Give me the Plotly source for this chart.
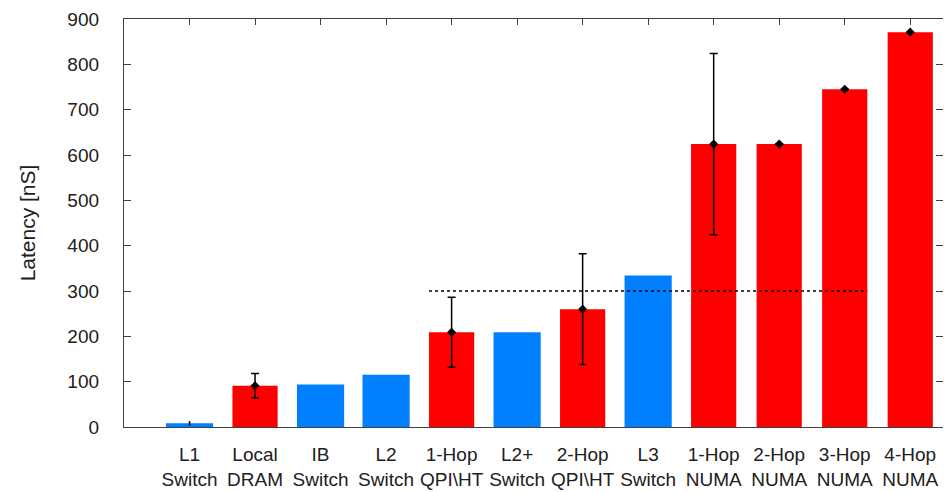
import plotly.graph_objects as go

categories = ["L1<br>Switch", "Local<br>DRAM", "IB<br>Switch", "L2<br>Switch",
              "1-Hop<br>QPI\\HT", "L2+<br>Switch", "2-Hop<br>QPI\\HT", "L3<br>Switch",
              "1-Hop<br>NUMA", "2-Hop<br>NUMA", "3-Hop<br>NUMA", "4-Hop<br>NUMA"]
latency = [8, 91, 94, 115, 209, 209, 260, 334, 624, 624, 745, 871]
error = [5, 27, 0, 0, 77, 0, 122, 0, 200, 0, 0, 0]
kind = ["switch", "memory", "switch", "switch", "memory", "switch", "memory",
        "switch", "memory", "memory", "memory", "memory"]
reference_level = 300
reference_from = "1-Hop<br>QPI\\HT"
reference_to = "3-Hop<br>NUMA"

BLUE = "#0080FF"
RED = "#FF0000"
W_BLUE = 0.72
W_RED = 0.69

idx = list(range(len(categories)))
b_idx = [i for i in idx if kind[i] == "switch"]
r_idx = [i for i in idx if kind[i] == "memory"]

fig = go.Figure()
fig.add_trace(go.Bar(
    x=b_idx, y=[latency[i] for i in b_idx], width=W_BLUE,
    marker=dict(color=BLUE, line=dict(width=0)),
    error_y=dict(type="data", array=[error[i] for i in b_idx], color="#000000",
                 thickness=1.5, width=0),
    showlegend=False))
fig.add_trace(go.Bar(
    x=r_idx, y=[latency[i] for i in r_idx], width=W_RED,
    marker=dict(color=RED, line=dict(width=0)),
    showlegend=False))
fig.add_trace(go.Scatter(
    x=r_idx, y=[latency[i] for i in r_idx], mode="markers",
    marker=dict(symbol="diamond", size=7, color="#000000"),
    error_y=dict(type="data", array=[error[i] for i in r_idx], color="#000000",
                 thickness=1.5, width=4),
    showlegend=False))

x0 = categories.index(reference_from) - W_RED / 2
x1 = categories.index(reference_to) + W_RED / 2
fig.add_trace(go.Scatter(
    x=[x0, x1], y=[reference_level, reference_level], mode="lines",
    line=dict(color="#000000", width=1.5, dash="dot"), showlegend=False))

axis_col = "#404040"
fig.update_layout(
    width=943, height=484,
    margin=dict(l=116, r=8, t=11, b=65),
    plot_bgcolor="white", paper_bgcolor="white",
    font=dict(family="Liberation Sans, Arial, sans-serif", size=19, color="#202020"),
    bargap=0.3,
    xaxis=dict(range=[-1, 11.5], tickvals=idx, ticktext=categories,
               showline=True, linecolor=axis_col, linewidth=1.3, mirror="ticks",
               ticks="inside", ticklen=6, tickcolor=axis_col, tickwidth=1.3,
               showgrid=False, zeroline=False, layer="below traces",
               ticklabelstandoff=10, automargin=False),
    yaxis=dict(range=[0, 900], tickvals=list(range(0, 901, 100)),
               showline=True, linecolor=axis_col, linewidth=1.3, mirror="ticks",
               ticks="inside", ticklen=7, tickcolor=axis_col, tickwidth=1.3,
               showgrid=False, zeroline=False, ticklabelstandoff=20, automargin=False,
               title=dict(text="Latency [nS]", font=dict(size=21), standoff=25)),
)
fig.write_html("out.html")
